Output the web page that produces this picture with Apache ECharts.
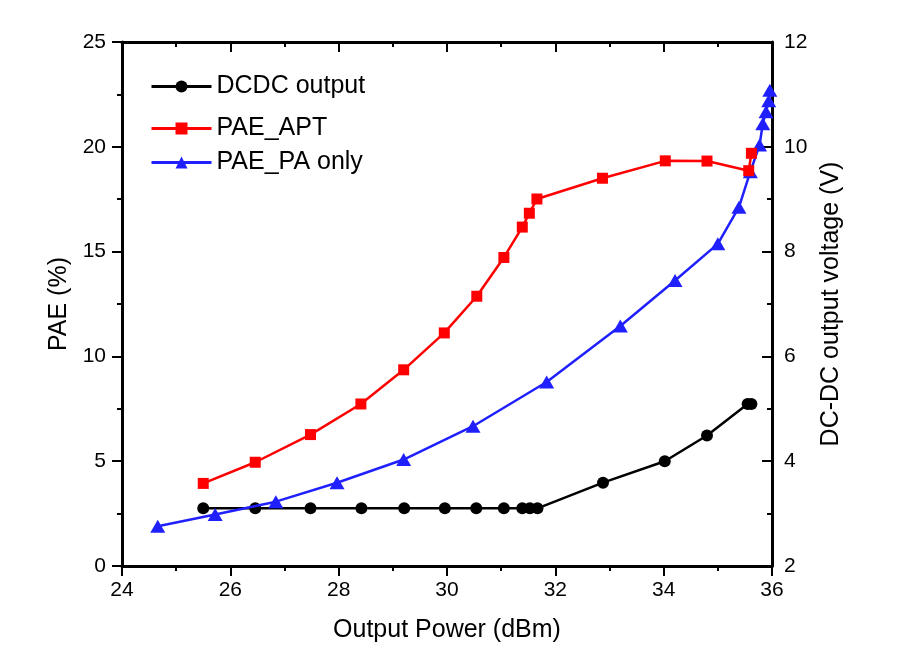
<!DOCTYPE html>
<html>
<head>
<meta charset="utf-8">
<script src="https://cdn.jsdelivr.net/npm/echarts@6/dist/echarts.min.js"></script>
<style>html,body{margin:0;padding:0;background:#fff}#c{width:912px;height:672px}</style>
</head>
<body>
<div id="c"></div>
<script>
// DCDC output voltage (V), right axis
var dcdcX = [25.5, 26.46, 27.48, 28.42, 29.21, 29.96, 30.54, 31.05, 31.39, 31.53, 31.67, 32.88, 34.02, 34.8, 35.55, 35.62];
var dcdcY = [3.1, 3.1, 3.1, 3.1, 3.1, 3.1, 3.1, 3.1, 3.1, 3.1, 3.1, 3.59, 4.0, 4.49, 5.09, 5.09];
// PAE_APT (%), left axis
var aptX = [25.5, 26.46, 27.48, 28.41, 29.2, 29.95, 30.55, 31.05, 31.39, 31.52, 31.66, 32.87, 34.03, 34.8, 35.57, 35.62];
var aptY = [3.94, 4.95, 6.27, 7.73, 9.36, 11.12, 12.87, 14.72, 16.17, 16.83, 17.51, 18.5, 19.33, 19.32, 18.86, 19.69];
// PAE_PA only (%), left axis
var paX = [24.66, 25.72, 26.84, 27.97, 29.2, 30.48, 31.84, 33.2, 34.21, 35.0, 35.39, 35.6, 35.77, 35.83, 35.89, 35.94, 35.96];
var paY = [1.9, 2.46, 3.07, 3.97, 5.08, 6.67, 8.78, 11.45, 13.62, 15.37, 17.12, 18.81, 20.08, 21.1, 21.67, 22.2, 22.7];

var xTicks = {min: 24, max: 36, interval: 2};
var leftTicks = {min: 0, max: 25, interval: 5};
var rightTicks = {min: 2, max: 12, interval: 2};

function pairs(xs, ys) { return xs.map(function (x, i) { return [x, ys[i]]; }); }

var FONT = 'Liberation Sans, Arial, sans-serif';
var axisLine = {show: true, onZero: false, lineStyle: {color: '#000', width: 3}};
var labelStyle = {color: '#000', fontSize: 21, fontFamily: FONT};
var nameStyle = {color: '#000', fontSize: 25, fontFamily: FONT};
var legendText = {color: '#000', fontSize: 25, fontFamily: FONT};

function legendItem(name, top) {
  return {data: [name], left: 150, top: top, padding: 0, itemWidth: 60, itemHeight: 15, itemGap: 0,
          lineStyle: {width: 3}, textStyle: legendText};
}

var chart = echarts.init(document.getElementById('c'));
chart.setOption({
  animation: false,
  backgroundColor: '#fff',
  grid: {left: 122, right: 140, top: 42, bottom: 106, containLabel: false},
  legend: [
    legendItem('DCDC output', 74),
    legendItem('PAE_APT', 116),
    legendItem('PAE_PA only', 150)
  ],
  xAxis: [
    {type: 'value', position: 'bottom', min: xTicks.min, max: xTicks.max, interval: xTicks.interval,
     name: 'Output Power (dBm)', nameLocation: 'middle', nameGap: 52, nameTextStyle: nameStyle,
     axisLine: axisLine,
     axisTick: {show: true, inside: false, length: 10, lineStyle: {color: '#000', width: 2}},
     minorTick: {show: true, splitNumber: 2, length: 5, lineStyle: {color: '#000', width: 2}},
     axisLabel: Object.assign({margin: 14}, labelStyle),
     splitLine: {show: false}},
    {type: 'value', position: 'top', min: xTicks.min, max: xTicks.max, interval: xTicks.interval,
     axisLine: axisLine,
     axisTick: {show: true, inside: true, length: 10, lineStyle: {color: '#000', width: 2}},
     minorTick: {show: true, splitNumber: 2, length: 5, lineStyle: {color: '#000', width: 2}},
     axisLabel: {show: false}, splitLine: {show: false}}
  ],
  yAxis: [
    {type: 'value', position: 'left', min: leftTicks.min, max: leftTicks.max, interval: leftTicks.interval,
     name: 'PAE (%)', nameLocation: 'middle', nameGap: 50, nameTextStyle: nameStyle,
     axisLine: axisLine,
     axisTick: {show: true, inside: false, length: 10, lineStyle: {color: '#000', width: 2}},
     minorTick: {show: true, splitNumber: 2, length: 5, lineStyle: {color: '#000', width: 2}},
     axisLabel: Object.assign({margin: 16}, labelStyle),
     splitLine: {show: false}},
    {type: 'value', position: 'right', min: rightTicks.min, max: rightTicks.max, interval: rightTicks.interval,
     name: 'DC-DC output voltage (V)', nameLocation: 'middle', nameGap: 46, nameTextStyle: nameStyle,
     axisLine: axisLine,
     axisTick: {show: true, inside: true, length: 10, lineStyle: {color: '#000', width: 2}},
     minorTick: {show: true, splitNumber: 2, length: 5, lineStyle: {color: '#000', width: 2}},
     axisLabel: Object.assign({margin: 12}, labelStyle),
     splitLine: {show: false}}
  ],
  series: [
    {name: 'DCDC output', type: 'line', yAxisIndex: 1, data: pairs(dcdcX, dcdcY),
     symbol: 'circle', symbolSize: 12, z: 2,
     lineStyle: {color: '#000', width: 2.5}, itemStyle: {color: '#000'}},
    {name: 'PAE_APT', type: 'line', yAxisIndex: 0, data: pairs(aptX, aptY),
     symbol: 'rect', symbolSize: 11, z: 4,
     lineStyle: {color: '#ff0000', width: 2.5}, itemStyle: {color: '#ff0000'}},
    {name: 'PAE_PA only', type: 'line', yAxisIndex: 0, data: pairs(paX, paY),
     symbol: 'triangle', symbolSize: [15, 13], z: 3,
     lineStyle: {color: '#2020ff', width: 2.5}, itemStyle: {color: '#2020ff'}}
  ]
});
</script>
</body>
</html>
